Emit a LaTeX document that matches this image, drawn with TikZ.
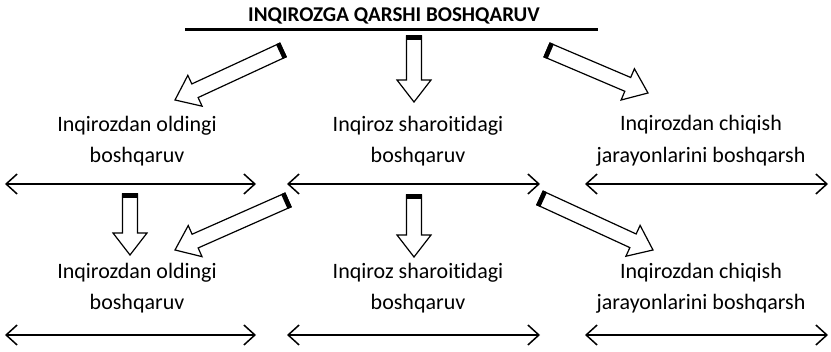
\documentclass[tikz,border=0pt]{standalone}
\usepackage{fontspec}
\setmainfont{Carlito}[Ligatures=NoCommon]
\usetikzlibrary{arrows.meta,calc}

\tikzset{
  lbl/.style={align=center, font=\fontsize{22}{31.5}\selectfont, inner sep=0pt},
  ttl/.style={font=\fontsize{21}{24}\selectfont\bfseries, inner sep=0pt, anchor=base},
  dbl/.style={{Straight Barb[length=11pt,width=20pt]}-{Straight Barb[length=11pt,width=20pt]}, line width=1.5pt},
  blockarr/.style={draw, line width=1.2pt, fill=white, line join=miter},
  uline/.style={line width=3pt}
}

% block arrow from #1 (tail) to #2 (tip)
\newcommand{\blockarrow}[2]{%
  \draw[blockarr] let \p1=(#1), \p2=(#2),
      \n1={atan2(\y2-\y1,\x2-\x1)}, \n2={veclen(\x2-\x1,\y2-\y1)} in
    [shift={(\p1)}, rotate=\n1]
    (0pt,7.5pt) -- ({\n2-22pt},7.5pt) -- ({\n2-22pt},17pt) -- ({\n2},0pt)
    -- ({\n2-22pt},-17pt) -- ({\n2-22pt},-7.5pt) -- (0pt,-7.5pt) -- cycle;
  \fill let \p1=(#1), \p2=(#2),
      \n1={atan2(\y2-\y1,\x2-\x1)} in
    [shift={(\p1)}, rotate=\n1]
    (-0.6pt,-8.1pt) rectangle (4pt,8.1pt);
}

\begin{document}
\begin{tikzpicture}[x=1pt,y=-1pt]
  \useasboundingbox (0,0) rectangle (831,352);

  % title
  \node[ttl] (title) at (394,22) {INQIROZGA QARSHI BOSHQARUV};
  \coordinate (ul1) at (185,30);
  \coordinate (ul2) at (598,30);
  \draw[uline] (ul1) -- (ul2);

  % text blocks
  \node[lbl] (a1) at (137,141) {Inqirozdan oldingi\\boshqaruv};
  \node[lbl] (b1) at (418,141) {Inqiroz sharoitidagi\\boshqaruv};
  \node[lbl] (c1) at (701,141) {Inqirozdan chiqish\\jarayonlarini boshqarsh};
  \node[lbl] (a2) at (137,288) {Inqirozdan oldingi\\boshqaruv};
  \node[lbl] (b2) at (418,288) {Inqiroz sharoitidagi\\boshqaruv};
  \node[lbl] (c2) at (701,288) {Inqirozdan chiqish\\jarayonlarini boshqarsh};

  % double arrows
  \coordinate (a1l) at (5,184);   \coordinate (a1r) at (256,184);
  \coordinate (b1l) at (287,184); \coordinate (b1r) at (540,184);
  \coordinate (c1l) at (585,184); \coordinate (c1r) at (828,184);
  \coordinate (a2l) at (5,335);   \coordinate (a2r) at (256,335);
  \coordinate (b2l) at (287,335); \coordinate (b2r) at (540,335);
  \coordinate (c2l) at (585,335); \coordinate (c2r) at (828,335);
  \draw[dbl] (a1l) -- (a1r);
  \draw[dbl] (b1l) -- (b1r);
  \draw[dbl] (c1l) -- (c1r);
  \draw[dbl] (a2l) -- (a2r);
  \draw[dbl] (b2l) -- (b2r);
  \draw[dbl] (c2l) -- (c2r);

  % block arrows: tails and tips
  \coordinate (t1) at (283,50);  \coordinate (h1) at (175,100);
  \coordinate (t2) at (414,36);  \coordinate (h2) at (414,102);
  \coordinate (t3) at (547,50);  \coordinate (h3) at (648,93);
  \coordinate (t4) at (130,194); \coordinate (h4) at (130,255);
  \coordinate (t5) at (288,200); \coordinate (h5) at (175,250);
  \coordinate (t6) at (414,195); \coordinate (h6) at (414,257);
  \coordinate (t7) at (540,198); \coordinate (h7) at (653,250);
  \blockarrow{t1}{h1}
  \blockarrow{t2}{h2}
  \blockarrow{t3}{h3}
  \blockarrow{t4}{h4}
  \blockarrow{t5}{h5}
  \blockarrow{t6}{h6}
  \blockarrow{t7}{h7}
\end{tikzpicture}
\end{document}
